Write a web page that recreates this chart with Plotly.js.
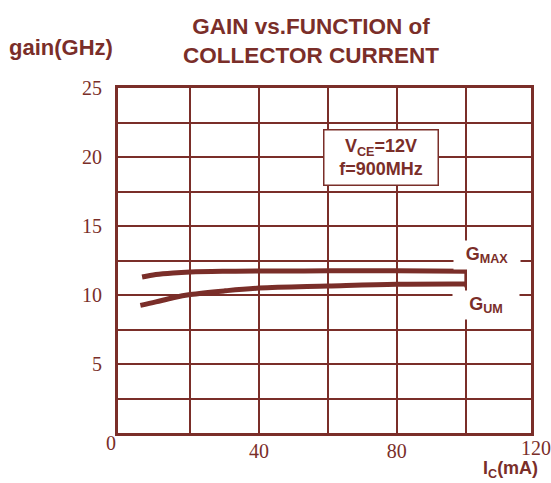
<!DOCTYPE html>
<html>
<head>
<meta charset="utf-8">
<script src="https://cdn.plot.ly/plotly-3.0.1.min.js"></script>
<style>html,body{margin:0;padding:0;background:#fff;}#chart{width:551px;height:483px;}</style>
</head>
<body>
<div id="chart"></div>
<script>
// Data
const icGmax   = [6, 10, 15, 20, 30, 40, 60, 80, 100];
const gainGmax = [11.3, 11.48, 11.6, 11.67, 11.72, 11.74, 11.75, 11.76, 11.72];
const icGum    = [5.5, 10, 15, 20, 30, 40, 60, 80, 100];
const gainGum  = [9.25, 9.5, 9.8, 10.03, 10.3, 10.5, 10.65, 10.78, 10.8];
const xTickVals = [20, 40, 60, 80, 100];
const xTickText = ['', '40', '', '80', ''];
const xStartLabel = '0';
const xEndLabel = '120';
const yTickVals = [0, 2.5, 5, 7.5, 10, 12.5, 15, 17.5, 20, 22.5, 25];
const yTickText = ['', '', '5', '', '10', '', '15', '', '20', '', '25'];

const C = '#7a2e29';
const W = 551, H = 483, L = 118, R = 20, T = 88, B = 50;
const pw = W - L - R, ph = H - T - B;
const px = x => (x - L) / pw;
const py = y => (H - B - y) / ph;

const endIc = icGmax[icGmax.length - 1];
const endTop = gainGmax[gainGmax.length - 1] + 0.22;
const endBot = gainGum[gainGum.length - 1] - 0.25;

const traces = [
  {x: icGmax, y: gainGmax, mode: 'lines', line: {color: C, width: 5, shape: 'spline', smoothing: 1}, hoverinfo: 'none'},
  {x: icGum, y: gainGum, mode: 'lines', line: {color: C, width: 5, shape: 'spline', smoothing: 1}, hoverinfo: 'none'},
  {x: [endIc, endIc], y: [endTop, endBot], mode: 'lines', line: {color: C, width: 2.5}, hoverinfo: 'none'}
];

const sans = 'Liberation Sans, Arial, sans-serif';
const serif = 'Liberation Serif, Times New Roman, serif';
const f = (size, fam, weight) => ({family: fam || sans, size: size, color: C, weight: weight || 'bold'});
const layout = {
  width: W, height: H,
  margin: {l: L, r: R, t: T, b: B, pad: 0},
  paper_bgcolor: '#fff', plot_bgcolor: '#fff',
  showlegend: false,
  title: {
    text: 'GAIN vs.FUNCTION of<br>COLLECTOR CURRENT',
    font: f(22.5),
    x: 311 / W, xanchor: 'center', xref: 'container',
    y: 1 - 34 / H, yanchor: 'middle', yref: 'container'
  },
  xaxis: {
    range: [-1, 119], tickmode: 'array', tickvals: xTickVals, ticktext: xTickText,
    showgrid: true, gridcolor: C, gridwidth: 2, zeroline: false,
    showline: true, linecolor: C, linewidth: 3, mirror: true, ticks: '',
    tickfont: f(20, serif, 'normal'),
    ticklabelstandoff: -2, fixedrange: true
  },
  yaxis: {
    range: [0, 25], tickmode: 'array', tickvals: yTickVals, ticktext: yTickText,
    showgrid: true, gridcolor: C, gridwidth: 2, zeroline: false,
    showline: true, linecolor: C, linewidth: 3, mirror: true, ticks: '',
    tickfont: f(20, serif, 'normal'),
    ticklabelstandoff: 9, fixedrange: true
  },
  annotations: [
    {xref: 'paper', yref: 'paper', x: px(61.5), y: py(48), text: 'gain(GHz)', showarrow: false,
     xanchor: 'center', yanchor: 'middle', font: f(22)},
    {xref: 'paper', yref: 'paper', x: px(111), y: py(443), text: xStartLabel, showarrow: false,
     xanchor: 'center', yanchor: 'middle', font: f(20, serif, 'normal')},
    {xref: 'paper', yref: 'paper', x: px(536), y: py(448), text: xEndLabel, showarrow: false,
     xanchor: 'center', yanchor: 'middle', font: f(20, serif, 'normal')},
    {xref: 'paper', yref: 'paper', x: px(510), y: py(470), text: 'I<sub>C</sub>(mA)', showarrow: false,
     xanchor: 'center', yanchor: 'middle', font: f(18)},
    {xref: 'paper', yref: 'paper', x: px(381), y: py(157), text: 'V<sub>CE</sub>=12V<br>f=900MHz', showarrow: false,
     xanchor: 'center', yanchor: 'middle', bgcolor: '#fff', bordercolor: C, borderwidth: 1.5,
     width: 111, height: 52, font: f(18)},
    {xref: 'paper', yref: 'paper', x: px(487), y: py(255), text: 'G<sub>MAX</sub>', showarrow: false,
     xanchor: 'center', yanchor: 'middle', bgcolor: '#fff', width: 64, height: 26,
     font: f(18)},
    {xref: 'paper', yref: 'paper', x: px(486), y: py(305), text: 'G<sub>UM</sub>', showarrow: false,
     xanchor: 'center', yanchor: 'middle', bgcolor: '#fff', width: 64, height: 26,
     font: f(18)}
  ]
};

Plotly.newPlot('chart', traces, layout, {displayModeBar: false, staticPlot: true});
</script>
</body>
</html>
